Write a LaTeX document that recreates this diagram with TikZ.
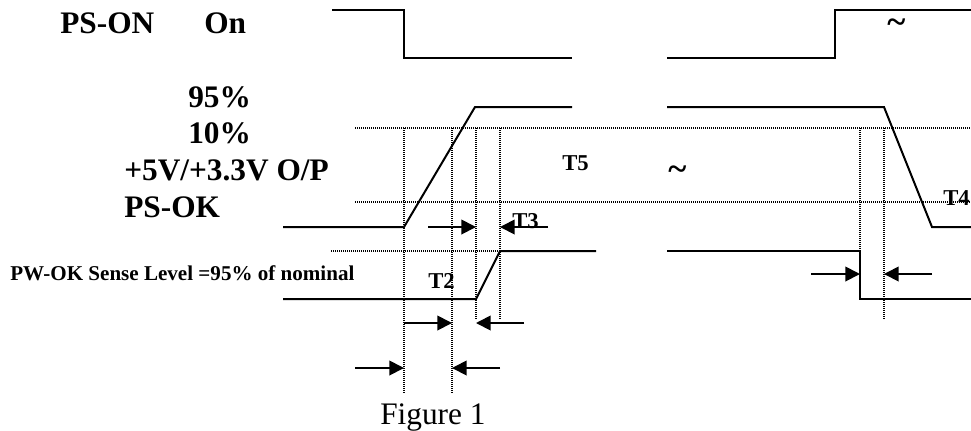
\documentclass[tikz,border=0pt]{standalone}
\usepackage{fontspec}
\setmainfont{Liberation Serif}
\usetikzlibrary{arrows.meta}

\begin{document}
\begin{tikzpicture}[x=0.75pt,y=-0.75pt,
    sig/.style={line width=1.5pt},
    gridline/.style={line width=0.8pt,dash pattern=on 0.75pt off 0.75pt},
    tarrow/.style={line width=1.4pt,-{Triangle[length=11pt,width=11pt]}},
    biglbl/.style={anchor=base west,inner sep=0pt,font=\bfseries\fontsize{23.5}{28}\selectfont},
    tlbl/.style={anchor=base west,inner sep=0pt,font=\bfseries\fontsize{17}{20}\selectfont}]
    \useasboundingbox (0,0) rectangle (971,430);
    % labels
    \node[biglbl] (pson) at (60,33) {PS-ON};
    \node[biglbl] (on) at (204,33) {On};
    \node[biglbl] (p95) at (188,107) {95\%};
    \node[biglbl] (p10) at (188,143) {10\%};
    \node[biglbl] (outp) at (124,180) {+5V/+3.3V O/P};
    \node[biglbl] (psok) at (124,217) {PS-OK};
    \node[tlbl,font=\bfseries\fontsize{15.8}{19}\selectfont] (sense) at (10,280) {PW-OK Sense Level =95\% of nominal};
    % PS-ON
    \draw[sig] (332,10)--(404,10)--(404,58)--(572,58);
    \draw[sig] (667,58)--(835,58)--(835,10)--(971,10);
    % +5V/+3.3V O/P
    \draw[sig] (283,227)--(404,227)--(475,107)--(572,107);
    \draw[sig] (667,107)--(884,107)--(932,227)--(971,227);
    % PS-OK
    \draw[sig] (283,299)--(476,299)--(500,251)--(596,251);
    \draw[sig] (667,251)--(860,251)--(860,299)--(971,299);
    % levels
    \draw[gridline] (355,128)--(971,128);
    \draw[gridline] (355,202)--(971,202);
    \draw[gridline] (331,251)--(500,251);
    \draw[gridline] (404,128)--(404,393);
    \draw[gridline] (452,128)--(452,393);
    \draw[gridline] (476,128)--(476,320);
    \draw[gridline] (500,128)--(500,320);
    \draw[gridline] (860,128)--(860,251);
    \draw[gridline] (884,128)--(884,320);
    % timing arrows
    \draw[tarrow] (428,227)--(476,227);
    \draw[tarrow] (548,227)--(500,227);
    \draw[tarrow] (404,323)--(452,323);
    \draw[tarrow] (524,323)--(476,323);
    \draw[tarrow] (355,368)--(404,368);
    \draw[tarrow] (500,368)--(452,368);
    \draw[tarrow] (811,274)--(860,274);
    \draw[tarrow] (932,274)--(884,274);
    % times
    \node[tlbl] (t2) at (428,288) {T2};
    \node[tlbl] (t3) at (512,228) {T3};
    \node[tlbl] (t4) at (943,205) {T4};
    \node[tlbl] (t5) at (562,170) {T5};
    \node[tlbl,font=\bfseries\fontsize{26}{28}\selectfont] (brk1) at (887,33) {\textasciitilde};
    \node[tlbl,font=\bfseries\fontsize{26}{28}\selectfont] (brk2) at (668,180) {\textasciitilde};
    \node[anchor=base west,inner sep=0pt,font=\fontsize{23.5}{28}\selectfont] (fig) at (380,424) {Figure 1};
\end{tikzpicture}
\end{document}
